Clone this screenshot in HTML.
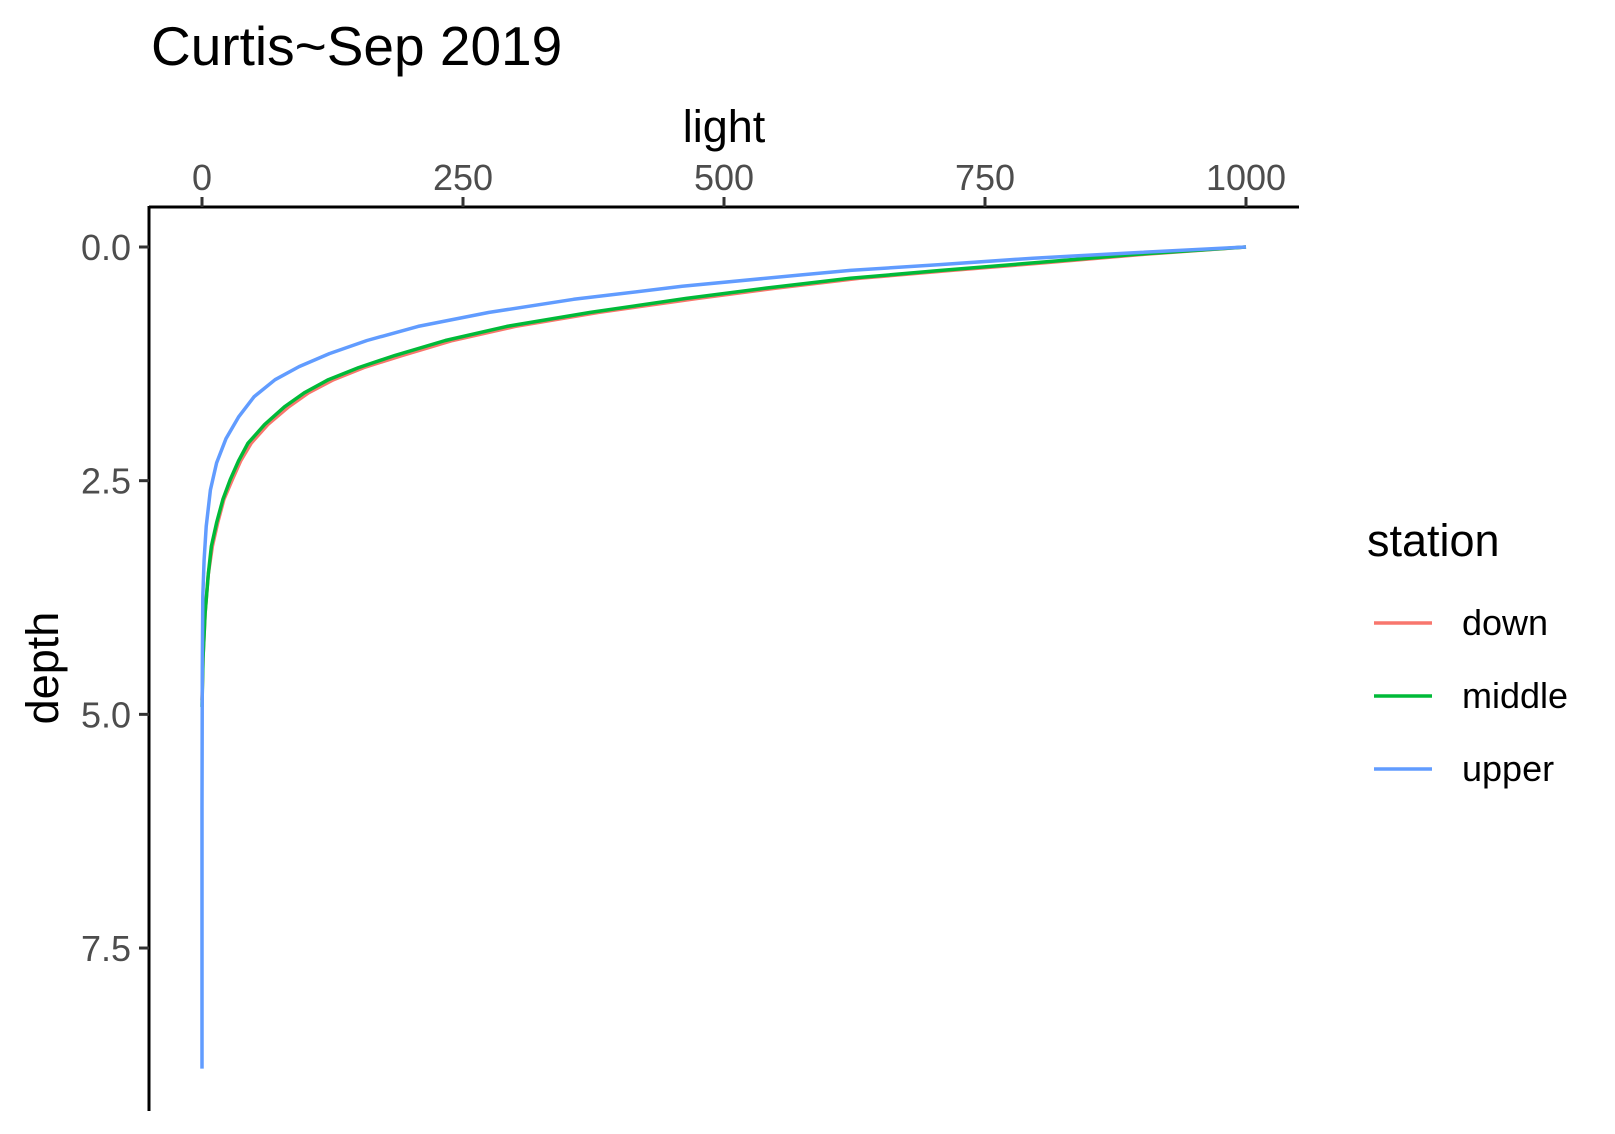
<!DOCTYPE html>
<html><head><meta charset="utf-8">
<style>
body{margin:0;background:#fff;}
svg{display:block;font-family:"Liberation Sans",Arial,sans-serif;}
</style></head>
<body>
<svg id="chart" width="1615" height="1134" viewBox="0 0 1615 1134">
<text x="151" y="65" font-size="55" fill="#000">Curtis~Sep 2019</text>
<text x="724" y="142" font-size="45" text-anchor="middle" fill="#000">light</text>
<text transform="translate(58,668) rotate(-90)" font-size="45" text-anchor="middle" fill="#000">depth</text>
<line x1="149" y1="207" x2="1299" y2="207" stroke="#000" stroke-width="3"/>
<line x1="149" y1="206" x2="149" y2="1111" stroke="#000" stroke-width="3"/>
<g id="xticks"></g><g id="yticks"></g><g id="series"></g>
<text x="1367" y="556" font-size="45" fill="#000">station</text>
<g id="legend"></g>
</svg>
<script>
const xTicks=[0,250,500,750,1000];
const yTicks=[0,2.5,5,7.5];
const yTickLabels=["0.0","2.5","5.0","7.5"];
const stations=["down","middle","upper"];
const colors=["#F8766D","#00BA38","#619CFF"];
const downDepth=[0,0.08,0.17,0.25,0.335,0.44,0.55,0.7,0.85,1.0,1.16,1.29,1.42,1.56,1.71,1.9,2.10,2.29,2.49,2.7,2.95,3.2,3.5,3.92,4.4,4.85];
const downLight=[1000,900,806,718,630,550,475,380,300,240,192,155,126,102,83,63,47,37,29,21,15,10,6,3,1,0];
const middleDepth=[0,0.08,0.17,0.25,0.335,0.44,0.55,0.7,0.85,1.0,1.16,1.29,1.42,1.56,1.71,1.9,2.10,2.29,2.49,2.7,2.95,3.2,3.5,3.92,4.4,4.92];
const middleLight=[1000,893,796,708,621,540,464,372,292,233,185,150,121,98,79,60,44,35,27,20,14,9,6,3,1,0];
const upperDepth=[0,0.06,0.12,0.19,0.25,0.30,0.42,0.56,0.7,0.85,1.0,1.14,1.28,1.42,1.6,1.82,2.05,2.31,2.6,2.99,3.35,3.74,4.5,6,8.79];
const upperLight=[1000,895,796,705,621,573,460,356,275,207,158,122,93,70,50,35,23,14,8,4,2,0.8,0.3,0,0];
const depths=[downDepth,middleDepth,upperDepth];
const lights=[downLight,middleLight,upperLight];
const xs=v=>202+v*1.044;
const ys=v=>247+v*93.47;
const NS="http://www.w3.org/2000/svg";
function mk(tag,attrs,parent){const e=document.createElementNS(NS,tag);for(const k in attrs)e.setAttribute(k,attrs[k]);parent.appendChild(e);return e;}
const xt=document.getElementById('xticks');
xTicks.forEach(t=>{
 const l=mk('line',{x1:xs(t),x2:xs(t),y1:197,y2:207,stroke:'#333','stroke-width':3},xt);
 
 
 const tx=mk('text',{x:xs(t),y:190,'font-size':36,fill:'#4d4d4d','text-anchor':'middle'},xt);
 tx.textContent=t;
 
 
});
const yt=document.getElementById('yticks');
yTicks.forEach((t,i)=>{
 const l=mk('line',{x1:139,x2:149,y1:ys(t),y2:ys(t),stroke:'#333','stroke-width':3},yt);
 
 
 const tx=mk('text',{x:131,y:ys(t)+13,'font-size':36,fill:'#4d4d4d','text-anchor':'end'},yt);
 tx.textContent=yTickLabels[i];
 
 
});
const sg=document.getElementById('series');
stations.forEach((s,i)=>{
 const pts=depths[i].map((d,j)=>xs(lights[i][j]).toFixed(1)+','+ys(d).toFixed(1)).join(' ');
 const p=mk('polyline',{points:pts,fill:'none',stroke:colors[i],'stroke-width':3.5,'stroke-linejoin':'round'},sg);
 
 
});
const lg=document.getElementById('legend');
stations.forEach((s,i)=>{
 const y=623+i*73;
 const l=mk('line',{x1:1374,x2:1432,y1:y,y2:y,stroke:colors[i],'stroke-width':3.5},lg);
 
 
 const tx=mk('text',{x:1462,y:y+12,'font-size':36,fill:'#000'},lg);
 tx.textContent=s;
 
 
});
</script>
</body></html>
